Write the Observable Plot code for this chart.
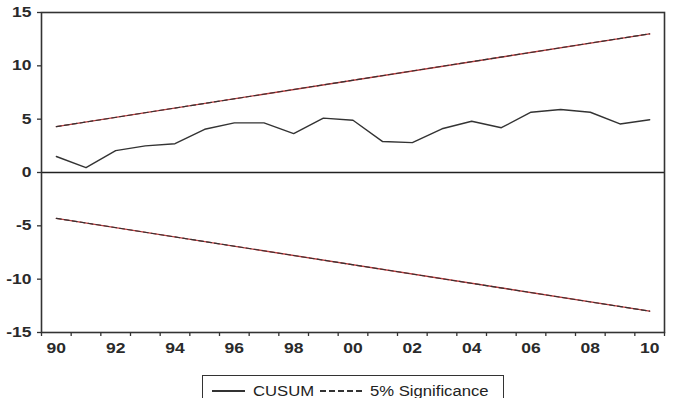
<!DOCTYPE html>
<html>
<head>
<meta charset="utf-8">
<script src="https://cdn.jsdelivr.net/npm/d3@7"></script>
<script src="https://cdn.jsdelivr.net/npm/@observablehq/plot@0.6"></script>
<style>
  html, body { margin: 0; padding: 0; background: #fff; overflow: hidden; }
  #chart svg { display: block; }
  #legend {
    position: absolute; left: 202px; top: 375px; width: 302px; height: 40px;
    border: 1.5px solid #333; box-sizing: border-box;
    font-family: "Liberation Sans", Arial, sans-serif; font-size: 14px; color: #222;
  }
  #legend .item { position: absolute; top: 6.5px; white-space: nowrap; transform: scaleX(1.19); transform-origin: left center; }
  #legend .sw { position: absolute; top: 14px; height: 1.5px; }
</style>
</head>
<body>
<div id="chart"></div>
<div id="legend">
  <div class="sw" style="left:8.5px;width:33px;background:#333;"></div>
  <div class="item" style="left:49.5px;" id="lab1"></div>
  <div class="sw" style="left:117px;width:45px;background:repeating-linear-gradient(to right,#333 0 6px,transparent 6px 9px);"></div>
  <div class="item" style="left:166.5px;" id="lab2"></div>
</div>
<script>
// ---- data ----
const years = [1990,1991,1992,1993,1994,1995,1996,1997,1998,1999,2000,2001,2002,2003,2004,2005,2006,2007,2008,2009,2010];
const cusum = [1.5,0.45,2.05,2.5,2.7,4.05,4.65,4.65,3.65,5.1,4.9,2.9,2.8,4.1,4.8,4.2,5.65,5.9,5.65,4.55,4.95];
const boundYears = [1990, 2010];
const upper5 = [4.3, 13.0];
const lower5 = [-4.3, -13.0];
const xTickLabels = ["90","92","94","96","98","00","02","04","06","08","10"];
const xTickYears = [1990,1992,1994,1996,1998,2000,2002,2004,2006,2008,2010];
const yTicks = [-15,-10,-5,0,5,10,15];
const seriesNames = ["CUSUM", "5% Significance"];

document.getElementById("lab1").textContent = seriesNames[0];
document.getElementById("lab2").textContent = seriesNames[1];

const cusumData = years.map((y, i) => ({year: y, v: cusum[i]}));
const upData = boundYears.map((y, i) => ({year: y, v: upper5[i]}));
const loData = boundYears.map((y, i) => ({year: y, v: lower5[i]}));
const minorTicks = d3.range(1989.5, 2011, 1);
const labelMap = new Map(xTickYears.map((y, i) => [y, xTickLabels[i]]));

const chart = Plot.plot({
  width: 674,
  height: 372,
  marginLeft: 41,
  marginRight: 10,
  marginTop: 12,
  marginBottom: 40,
  style: {fontFamily: "'Liberation Sans', Arial, sans-serif", fontSize: "14px", color: "#222", background: "#fff"},
  x: {domain: [1989.5, 2010.5]},
  y: {domain: [-15, 15]},
  marks: [
    Plot.ruleY([0], {stroke: "#222", strokeWidth: 1.5}),
    Plot.line(upData, {x: "year", y: "v", stroke: "#c0393b", strokeWidth: 1.4}),
    Plot.line(upData, {x: "year", y: "v", stroke: "#333", strokeWidth: 1.1, strokeDasharray: "5,3"}),
    Plot.line(loData, {x: "year", y: "v", stroke: "#c0393b", strokeWidth: 1.4}),
    Plot.line(loData, {x: "year", y: "v", stroke: "#333", strokeWidth: 1.1, strokeDasharray: "5,3"}),
    Plot.line(cusumData, {x: "year", y: "v", stroke: "#333", strokeWidth: 1.4}),
    Plot.axisY({ticks: yTicks, tickSize: 4, tickPadding: 6, tickFormat: d => String(d), label: null, stroke: "#333", strokeWidth: 1.3, fill: "#2a2a2a", fontWeight: "bold"}),
    Plot.axisX({ticks: minorTicks, tickSize: 4, tickFormat: () => "", label: null, stroke: "#333", strokeWidth: 1.3}),
    Plot.axisX({ticks: xTickYears, tickSize: 0, tickPadding: 11, tickFormat: d => labelMap.get(d), label: null, fill: "#2a2a2a", fontWeight: "bold"}),
    Plot.frame({stroke: "#333", strokeWidth: 1.6})
  ]
});
// widen tick labels horizontally like the reference's stretched text
chart.querySelectorAll('g[aria-label="y-axis tick label"] text, g[aria-label="x-axis tick label"] text').forEach(t => {
  const tr = t.getAttribute("transform") || "";
  t.setAttribute("transform", tr + " scale(1.25,1)");
});
document.getElementById("chart").appendChild(chart);
</script>
</body>
</html>
